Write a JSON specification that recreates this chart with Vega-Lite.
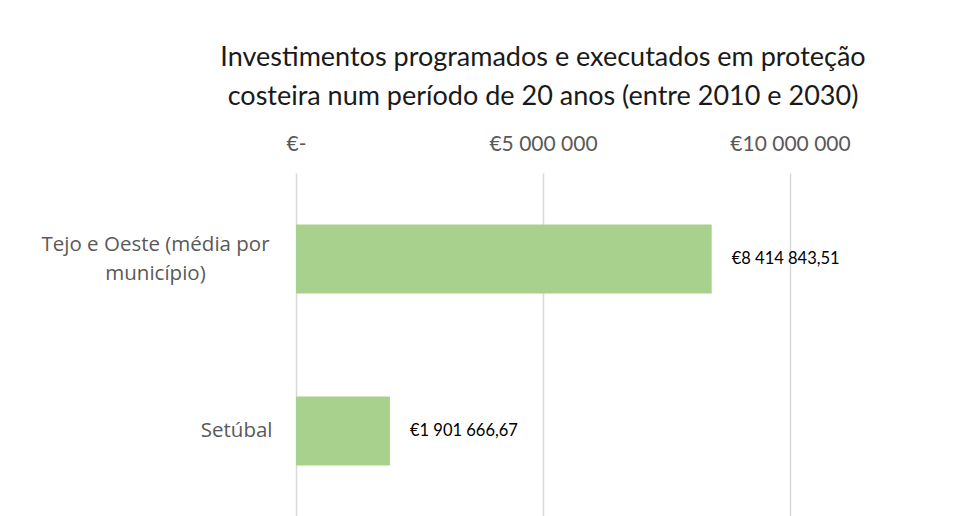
{
  "$schema": "https://vega.github.io/schema/vega-lite/v6.json",
  "width": 494,
  "height": 344,
  "autosize": {"type": "none"},
  "padding": {"left": 296, "top": 173, "right": 171, "bottom": 0},
  "background": "white",
  "config": {
    "locale": {"number": {"decimal": ",", "thousands": " ", "grouping": [3], "currency": ["€", ""]}},
    "view": {"stroke": null},
    "font": "Lato"
  },
  "title": {
    "text": ["Investimentos programados e executados em proteção", "costeira num período de 20 anos (entre 2010 e 2030)"],
    "font": "Lato",
    "fontSize": 27,
    "fontWeight": "normal",
    "color": "#1a1a1a",
    "lineHeight": 39,
    "anchor": "middle",
    "frame": "group",
    "offset": 22
  },
  "data": {
    "values": [
      {"regiao": "Tejo e Oeste (média por município)", "valor": 8414843.51},
      {"regiao": "Setúbal", "valor": 1901666.67}
    ]
  },
  "encoding": {
    "y": {
      "field": "regiao",
      "type": "nominal",
      "sort": null,
      "title": null,
      "scale": {"paddingInner": 0.6, "paddingOuter": 0.3},
      "axis": {
        "domain": false,
        "ticks": false,
        "labelFont": "Open Sans",
        "labelFontSize": 20.5,
        "labelFontWeight": "normal",
        "labelColor": "#595959",
        "labelLineHeight": 29,
        "labelLimit": 400,
        "labelAlign": {"condition": {"test": "datum.value == 'Setúbal'", "value": "right"}, "value": "center"},
        "labelPadding": {"condition": {"test": "datum.value == 'Setúbal'", "value": 24}, "value": 141},
        "labelOffset": {"condition": {"test": "datum.value == 'Setúbal'", "value": 0}, "value": -14.5},
        "labelExpr": "datum.value == 'Setúbal' ? datum.value : ['Tejo e Oeste (média por', 'município)']"
      }
    }
  },
  "layer": [
    {
      "mark": {"type": "bar", "color": "#A9D18E"},
      "encoding": {
        "x": {
          "field": "valor",
          "type": "quantitative",
          "title": null,
          "scale": {"domain": [0, 10000000]},
          "axis": {
            "orient": "top",
            "values": [0, 5000000, 10000000],
            "format": "$,d",
            "labelExpr": "datum.value == 0 ? '€-' : datum.label",
            "domain": false,
            "ticks": false,
            "grid": true,
            "gridColor": "#d9d9d9",
            "gridWidth": 1.5,
            "labelFont": "Lato",
            "labelFontSize": 21,
            "labelFontWeight": "normal",
            "labelColor": "#595959",
            "labelPadding": 19,
            "labelFlush": false
          }
        }
      }
    },
    {
      "mark": {"type": "text", "align": "left", "dx": 20, "fontSize": 16.5, "font": "Lato", "color": "#000000"},
      "encoding": {
        "x": {"field": "valor", "type": "quantitative"},
        "text": {"field": "valor", "type": "quantitative", "format": "$,.2f"}
      }
    }
  ]
}
